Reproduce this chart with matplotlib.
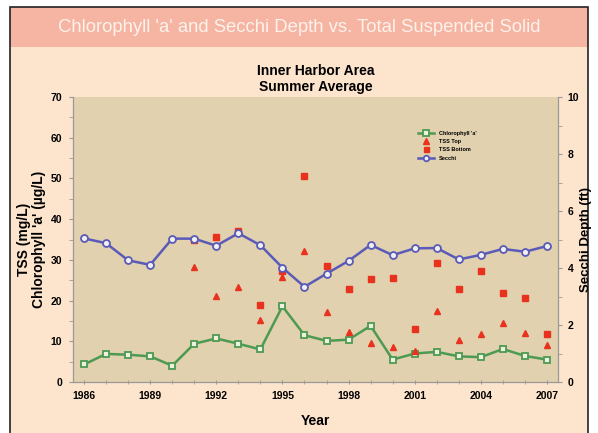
import matplotlib.pyplot as plt
from matplotlib.patches import Rectangle
from matplotlib.ticker import MultipleLocator

plt.rcParams['font.family'] = ['Liberation Sans', 'DejaVu Sans']

years = list(range(1986, 2008))
chlorophyll = [4.3, 6.9, 6.7, 6.3, 4.0, 9.4, 10.7, 9.4, 8.0, 18.6, 11.5, 10.1,
               10.4, 13.8, 5.5, 7.0, 7.4, 6.3, 6.1, 8.1, 6.4, 5.5]
secchi = [5.04, 4.87, 4.27, 4.11, 5.03, 5.03, 4.78, 5.22, 4.80, 4.01, 3.34, 3.80,
          4.25, 4.81, 4.45, 4.69, 4.70, 4.30, 4.46, 4.67, 4.57, 4.77]
tss_years = list(range(1991, 2008))
tss_top = [28.3, 21.1, 23.4, 15.2, 25.9, 32.2, 17.1, 12.2, 9.6, 8.7, 7.7,
           17.5, 10.3, 11.9, 14.4, 12.0, 9.2]
tss_bottom = [34.8, 35.6, 37.2, 19.0, 27.3, 50.6, 28.6, 22.9, 25.4, 25.5, 13.1,
              29.3, 22.9, 27.2, 21.9, 20.6, 11.7]
year_ticks = [1986, 1989, 1992, 1995, 1998, 2001, 2004, 2007]

fig = plt.figure(figsize=(5.98, 4.33), dpi=100)
fig.patch.set_facecolor('white')

# page background, banner and frame (behind the axes)
fig.patches.append(Rectangle((10/598, 0), 578/598, 1 - 7/433, transform=fig.transFigure,
                             facecolor='#fde4cd', edgecolor='none', zorder=-10))
fig.patches.append(Rectangle((10/598, 1 - 47/433), 578/598, 40/433, transform=fig.transFigure,
                             facecolor='#f5b5a2', edgecolor='none', zorder=-9))
fig.patches.append(Rectangle((10/598, -0.01), 578/598, 1.01 - 7/433, transform=fig.transFigure,
                             facecolor='none', edgecolor='#222222', linewidth=1.2, zorder=-8))
fig.text(0.5, 1 - 28/433, "Chlorophyll 'a' and Secchi Depth vs. Total Suspended Solid",
         color='#fdf2ec', fontsize=13.3, ha='center', va='center')

ax = fig.add_axes([73/598, 1 - 382/433, 485/598, 285/433])
ax.set_facecolor('#e1d1ae')
ax2 = ax.twinx()

red = '#e8321e'
green = '#4d9a52'
blue = '#5a5ab8'

l1, = ax.plot(years, chlorophyll, color=green, lw=1.8, marker='s', ms=5,
              mfc='#f0f0e0', mec=green, mew=1.3, label="Chlorophyll 'a'", zorder=3)
l2, = ax.plot(tss_years, tss_top, ls='none', marker='^', ms=5, color=red,
              label='TSS Top', zorder=4)
l3, = ax.plot(tss_years, tss_bottom, ls='none', marker='s', ms=4.5, color=red,
              label='TSS Bottom', zorder=4)
l4, = ax2.plot(years, secchi, color=blue, lw=1.8, marker='o', ms=5,
               mfc='#f0f0f0', mec=blue, mew=1.3, label='Secchi', zorder=3)

ax.set_xlim(1985.5, 2007.5)
ax.set_ylim(0, 70)
ax2.set_ylim(0, 10)
ax.set_xticks(year_ticks)
ax.xaxis.set_minor_locator(MultipleLocator(1))
ax.yaxis.set_major_locator(MultipleLocator(10))
ax.yaxis.set_minor_locator(MultipleLocator(5))
ax2.yaxis.set_major_locator(MultipleLocator(2))
ax2.yaxis.set_minor_locator(MultipleLocator(1))

for a in (ax, ax2):
    a.tick_params(which='both', color='#999999', labelsize=7.5, length=3)
    a.tick_params(which='major', pad=5)
    for s in a.spines.values():
        s.set_color('#999999')
    for lab in a.get_xticklabels() + a.get_yticklabels():
        lab.set_fontweight('bold')
ax2.tick_params(which='major', pad=4)
ax2.spines['top'].set_visible(False)
ax.spines['top'].set_visible(False)
ax.tick_params(axis='x', which='both', direction='inout')

ax.set_xlabel('Year', fontsize=10, fontweight='bold', labelpad=9)
ax.set_ylabel("TSS (mg/L)\nChlorophyll 'a' (\u00b5g/L)", fontsize=10, fontweight='bold',
              labelpad=3, linespacing=1.1)
fig.text(586/598, 1 - 240/433, 'Secchi Depth (ft)', fontsize=9.5, fontweight='bold',
         rotation=90, ha='center', va='center')
ax.set_title('Inner Harbor Area\nSummer Average', fontsize=10, fontweight='bold',
             pad=4, linespacing=1.2)

leg = ax.legend(handles=[l1, l2, l3, l4], loc='upper left',
                bbox_to_anchor=(0.70, 0.90), frameon=False,
                prop={'size': 4, 'weight': 'bold'}, handlelength=3,
                labelspacing=0.6, markerscale=0.8)

fig.savefig('out.png', dpi=100, facecolor=fig.get_facecolor())
